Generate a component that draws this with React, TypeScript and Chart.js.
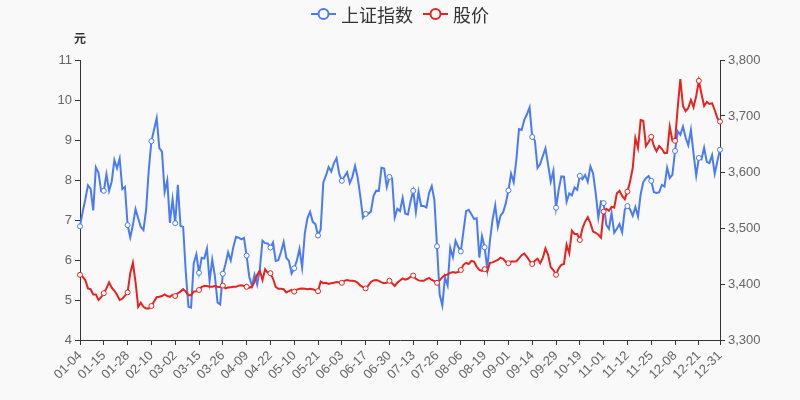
import React, { useEffect, useRef } from 'react';
import { Chart, registerables } from 'chart.js';

Chart.register(...registerables);

const dates: string[] = [
  '01-04','01-05','01-06','01-07','01-08','01-11','01-12','01-13','01-14','01-15','01-18','01-19','01-20','01-21','01-22','01-25','01-26','01-27','01-28','01-29',
  '02-01','02-02','02-03','02-04','02-05','02-08','02-09','02-10','02-18','02-19','02-22','02-23','02-24','02-25','02-26',
  '03-01','03-02','03-03','03-04','03-05','03-08','03-09','03-10','03-11','03-12','03-15','03-16','03-17','03-18','03-19','03-22','03-23','03-24','03-25','03-26','03-29','03-30','03-31',
  '04-01','04-02','04-06','04-07','04-08','04-09','04-12','04-13','04-14','04-15','04-16','04-19','04-20','04-21','04-22','04-23','04-26','04-27','04-28','04-29','04-30',
  '05-06','05-07','05-10','05-11','05-12','05-13','05-14','05-17','05-18','05-19','05-20','05-21','05-24','05-25','05-26','05-27','05-28','05-31',
  '06-01','06-02','06-03','06-04','06-07','06-08','06-09','06-10','06-11','06-15','06-16','06-17','06-18','06-21','06-22','06-23','06-24','06-25','06-28','06-29','06-30',
  '07-01','07-02','07-05','07-06','07-07','07-08','07-09','07-12','07-13','07-14','07-15','07-16','07-19','07-20','07-21','07-22','07-23','07-26','07-27','07-28','07-29','07-30',
  '08-02','08-03','08-04','08-05','08-06','08-09','08-10','08-11','08-12','08-13','08-16','08-17','08-18','08-19','08-20','08-23','08-24','08-25','08-26','08-27','08-30','08-31',
  '09-01','09-02','09-03','09-06','09-07','09-08','09-09','09-10','09-13','09-14','09-15','09-16','09-17','09-22','09-23','09-24','09-27','09-28','09-29','09-30',
  '10-08','10-11','10-12','10-13','10-14','10-15','10-18','10-19','10-20','10-21','10-22','10-25','10-26','10-27','10-28','10-29',
  '11-01','11-02','11-03','11-04','11-05','11-08','11-09','11-10','11-11','11-12','11-15','11-16','11-17','11-18','11-19','11-22','11-23','11-24','11-25','11-26','11-29','11-30',
  '12-01','12-02','12-03','12-06','12-07','12-08','12-09','12-10','12-13','12-14','12-15','12-16','12-17','12-20','12-21','12-22','12-23','12-24','12-27','12-28','12-29','12-30','12-31',
];

const sseIndex: number[] = [
  3502.96,3528.68,3550.88,3576.20,3570.11,3531.50,3608.34,3598.65,3565.90,3566.38,3596.22,3566.26,3583.09,3621.26,3606.75,3624.24,3569.43,3573.34,3505.18,3483.07,
  3505.28,3533.68,3517.31,3501.86,3496.33,3532.44,3603.49,3655.09,3675.36,3696.17,3642.44,3636.36,3564.08,3585.05,3509.08,
  3551.40,3508.59,3576.90,3503.49,3501.99,3421.41,3359.29,3357.74,3436.83,3453.08,3419.95,3446.73,3445.55,3463.07,3404.66,3443.44,3414.41,3367.06,3363.59,3418.33,3435.30,3456.68,3441.91,
  3466.33,3484.39,3482.85,3479.63,3482.48,3450.68,3412.95,3396.47,3416.75,3398.99,3426.62,3477.55,3472.94,3472.31,3465.11,3474.17,3441.17,3442.61,3457.07,3474.90,3446.86,
  3441.28,3418.87,3427.99,3441.85,3462.75,3429.54,3490.38,3517.62,3529.01,3510.96,3506.94,3486.56,3497.28,3581.34,3593.36,3608.85,3600.78,3615.48,
  3624.71,3597.14,3584.22,3591.84,3599.54,3580.11,3591.40,3610.86,3589.75,3556.56,3518.33,3525.10,3525.60,3529.18,3557.41,3566.65,3566.22,3607.56,3606.37,3573.18,3591.20,
  3588.78,3518.76,3534.32,3530.26,3553.72,3525.50,3524.09,3547.84,3566.50,3528.50,3564.59,3539.30,3539.12,3536.79,3562.66,3574.73,3550.40,3467.44,3381.18,3361.59,3411.72,3397.36,
  3464.29,3447.99,3477.22,3466.56,3458.23,3494.63,3529.93,3532.62,3524.74,3516.30,3517.34,3446.98,3485.29,3465.55,3427.33,3477.13,3514.47,3540.38,3501.66,3522.16,3528.15,3543.94,
  3567.10,3597.04,3581.73,3621.86,3676.59,3675.19,3693.13,3703.11,3715.37,3662.60,3656.22,3607.09,3613.97,3628.49,3642.22,3613.07,3582.83,3602.22,3536.29,3568.17,
  3592.17,3591.71,3546.94,3561.76,3558.28,3572.37,3568.14,3593.15,3587.00,3594.78,3582.60,3609.86,3597.64,3562.31,3518.42,3547.34,
  3544.48,3505.63,3498.54,3526.87,3491.57,3498.63,3507.00,3492.46,3532.79,3539.10,3533.30,3521.79,3537.37,3520.71,3560.37,3582.08,3589.09,3592.70,3584.18,3564.09,3562.70,3563.89,
  3576.89,3573.84,3607.43,3589.31,3595.09,3637.57,3673.04,3666.35,3681.08,3661.53,3647.63,3675.02,3632.36,3593.60,3625.13,3622.62,3643.34,3618.05,3615.97,3630.11,3597.00,3619.19,3639.78,
];

const stockPrice: number[] = [
  5.63,5.58,5.50,5.29,5.27,5.14,5.14,5.00,5.07,5.17,5.29,5.44,5.31,5.23,5.13,5.00,5.03,5.11,5.19,5.67,
  5.93,5.45,4.83,4.93,4.83,4.79,4.79,4.85,4.96,5.07,5.08,5.10,5.14,5.10,5.08,5.13,5.10,5.17,5.21,5.27,
  5.21,5.12,5.12,5.21,5.22,5.25,5.33,5.35,5.35,5.33,5.33,5.35,5.33,5.32,5.36,5.29,5.31,5.32,5.33,5.33,
  5.36,5.37,5.35,5.33,5.31,5.33,5.46,5.63,5.73,5.50,5.77,5.68,5.67,5.53,5.33,5.28,5.28,5.27,5.19,5.22,
  5.25,5.21,5.26,5.28,5.29,5.28,5.27,5.28,5.27,5.24,5.22,5.46,5.42,5.43,5.40,5.42,5.43,5.45,5.44,5.43,
  5.48,5.50,5.48,5.48,5.47,5.43,5.36,5.32,5.29,5.36,5.45,5.49,5.50,5.48,5.44,5.42,5.43,5.48,5.42,5.35,
  5.43,5.49,5.54,5.51,5.53,5.58,5.61,5.53,5.49,5.48,5.48,5.52,5.55,5.50,5.47,5.43,5.49,5.57,5.62,5.64,
  5.68,5.70,5.68,5.70,5.75,5.88,5.93,5.90,5.98,5.96,5.83,5.75,5.73,5.77,5.71,5.93,5.94,5.97,6.00,6.06,
  6.03,5.95,5.92,5.96,5.96,5.97,6.04,6.12,6.16,6.08,5.98,5.90,5.98,6.03,5.92,6.05,6.29,6.13,5.82,5.75,
  5.63,5.79,5.88,5.90,6.38,6.17,6.73,6.65,6.65,6.50,6.79,6.96,7.07,6.92,6.71,6.68,6.63,6.56,7.21,7.28,
  7.23,7.33,7.31,7.67,7.73,7.60,7.52,7.71,7.96,8.30,9.05,8.80,9.50,9.48,8.85,8.95,9.08,8.85,8.72,8.85,
  8.78,8.67,8.68,9.33,8.98,8.98,9.80,10.52,9.85,9.72,9.80,10.00,9.82,10.10,10.48,10.15,9.85,9.95,9.90,9.92,9.75,9.55,9.46,
];

const seriesNames: string[] = ['上证指数', '股价'];
const unitLabel = '元';

const BG = '#f9f9f9';
const BLUE = '#4a7bf7';
const RED = '#e8231f';
const AXIS = '#333333';
const TICK_TEXT = '#666666';
const FONT = '"Liberation Sans", Arial, sans-serif';
const CJK = '"Noto Sans CJK SC", sans-serif';
const LAST = dates.length - 1;
const isMarked = (i: number) => i % 9 === 0 || i === LAST;

const decorPlugin = {
  id: 'decor',
  beforeDraw(chart: any) {
    const { ctx, width, height } = chart;
    ctx.save();
    ctx.fillStyle = BG;
    ctx.fillRect(0, 0, width, height);
    ctx.restore();
  },
  afterDraw(chart: any) {
    const ctx: CanvasRenderingContext2D = chart.ctx;
    ctx.save();
    const yScale = chart.scales.y;
    ctx.font = `bold 12px ${CJK}`;
    ctx.fillStyle = AXIS;
    ctx.textAlign = 'center';
    ctx.textBaseline = 'middle';
    ctx.fillText(unitLabel, yScale.right, chart.chartArea.top - 22);

    const colors = [BLUE, RED];
    ctx.font = `18px ${CJK}`;
    const iconW = 25;
    const iconGap = 5;
    const itemGap = 10;
    const widths = seriesNames.map((n) => ctx.measureText(n).width);
    const total = widths.reduce((a, w) => a + iconW + iconGap + w, 0) + itemGap * (seriesNames.length - 1);
    let x = (chart.width - total) / 2;
    const y = 14;
    seriesNames.forEach((name, k) => {
      ctx.strokeStyle = colors[k];
      ctx.lineWidth = 2;
      ctx.beginPath();
      ctx.moveTo(x, y);
      ctx.lineTo(x + iconW, y);
      ctx.stroke();
      ctx.beginPath();
      ctx.arc(x + iconW / 2, y, 5, 0, Math.PI * 2);
      ctx.fillStyle = '#ffffff';
      ctx.fill();
      ctx.stroke();
      ctx.fillStyle = AXIS;
      ctx.textAlign = 'left';
      ctx.textBaseline = 'middle';
      ctx.fillText(name, x + iconW + iconGap, y + 1);
      x += iconW + iconGap + widths[k] + itemGap;
    });
    ctx.restore();
  },
};

export default function App() {
  const ref = useRef<HTMLCanvasElement | null>(null);

  useEffect(() => {
    document.body.style.margin = '0';
    document.body.style.background = BG;
    if (!ref.current) return;
    const chart = new Chart(ref.current, {
      type: 'line',
      data: {
        labels: dates,
        datasets: [
          {
            label: seriesNames[0],
            data: sseIndex,
            yAxisID: 'y1',
            borderColor: BLUE,
            backgroundColor: BLUE,
            borderWidth: 2,
            tension: 0,
            order: 1,
            pointRadius: (c: any) => (isMarked(c.dataIndex) ? 2.5 : 0),
            pointBackgroundColor: '#ffffff',
            pointBorderColor: BLUE,
            pointBorderWidth: 1,
          },
          {
            label: seriesNames[1],
            data: stockPrice,
            yAxisID: 'y',
            borderColor: RED,
            backgroundColor: RED,
            borderWidth: 2,
            tension: 0,
            order: 0,
            pointRadius: (c: any) => (isMarked(c.dataIndex) ? 2.5 : 0),
            pointBackgroundColor: '#ffffff',
            pointBorderColor: RED,
            pointBorderWidth: 1,
          },
        ],
      },
      options: {
        responsive: false,
        animation: false,
        events: [],
        layout: { padding: { top: 60, left: 0, right: 0, bottom: 0 } },
        plugins: {
          legend: { display: false },
          tooltip: { enabled: false },
        },
        scales: {
          x: {
            type: 'category',
            offset: false,
            grid: {
              display: true,
              drawOnChartArea: false,
              drawTicks: true,
              tickLength: 5,
              tickColor: (c: any) => (isMarked(c.index) ? AXIS : 'rgba(0,0,0,0)'),
            },
            border: { display: true, color: AXIS, width: 1 },
            ticks: {
              autoSkip: false,
              maxRotation: 45,
              minRotation: 45,
              color: TICK_TEXT,
              font: { family: FONT, size: 13 },
              padding: 3,
              callback: (_v: any, i: number) => (isMarked(i) ? dates[i] : ''),
            },
            afterFit: (s: any) => {
              s.height = 60;
            },
          },
          y: {
            type: 'linear',
            position: 'left',
            min: 4,
            max: 11,
            grid: { display: true, drawOnChartArea: false, tickLength: 5, tickColor: AXIS },
            border: { display: true, color: AXIS, width: 1 },
            ticks: {
              stepSize: 1,
              color: TICK_TEXT,
              font: { family: FONT, size: 13 },
              padding: 3,
            },
            afterFit: (s: any) => {
              s.width = 80;
            },
          },
          y1: {
            type: 'linear',
            position: 'right',
            min: 3300,
            max: 3800,
            grid: { display: true, drawOnChartArea: false, tickLength: 5, tickColor: AXIS },
            border: { display: true, color: AXIS, width: 1 },
            ticks: {
              stepSize: 100,
              color: TICK_TEXT,
              font: { family: FONT, size: 13 },
              padding: 3,
              callback: (v: any) => Number(v).toLocaleString('en-US'),
            },
            afterFit: (s: any) => {
              s.width = 80;
            },
          },
        },
      } as any,
      plugins: [decorPlugin],
    });
    return () => chart.destroy();
  }, []);

  return (
    <div style={{ width: 800, height: 400, background: BG }}>
      <canvas ref={ref} width={800} height={400} style={{ display: 'block' }} />
    </div>
  );
}
